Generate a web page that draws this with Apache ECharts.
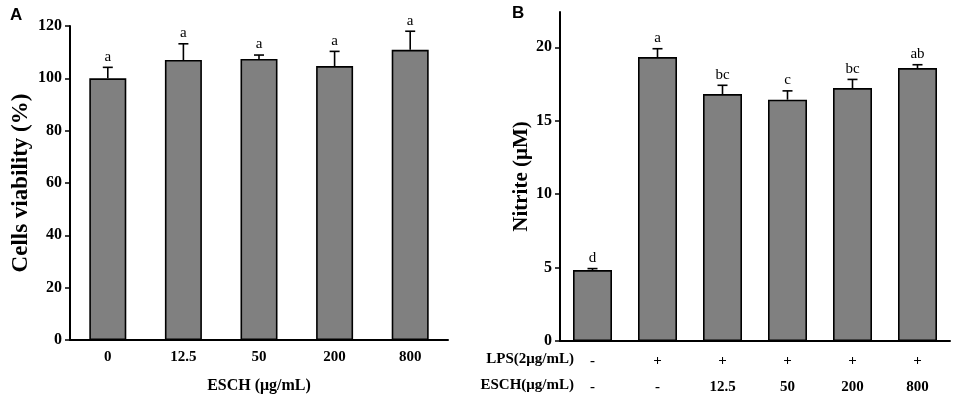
<!DOCTYPE html>
<html>
<head>
<meta charset="utf-8">
<script src="https://cdn.jsdelivr.net/npm/echarts@6/dist/echarts.min.js"></script>
<style>
  html, body { margin: 0; padding: 0; background: #fff; }
  #chart { width: 957px; height: 403px; }
</style>
</head>
<body>
<div id="chart"></div>
<script>
// panel A: cell viability
var doseA = ['0', '12.5', '50', '200', '800'];
var viability = [100, 107, 107.4, 104.7, 110.9];
var viabilitySd = [4.2, 6.2, 1.5, 5.6, 7.1];
var lettersA = ['a', 'a', 'a', 'a', 'a'];

// panel B: nitrite
var lpsRow = ['-', '+', '+', '+', '+', '+'];
var eschRow = ['-', '-', '12.5', '50', '200', '800'];
var nitrite = [4.83, 19.33, 16.81, 16.43, 17.22, 18.58];
var nitriteSd = [0.1, 0.57, 0.6, 0.6, 0.59, 0.23];
var lettersB = ['d', 'a', 'bc', 'c', 'bc', 'ab'];
var ticksB = [0, 5, 10, 15, 20];

var serif = '"Liberation Serif", "Times New Roman", serif';
var catB = [];
for (var i = 0; i < lpsRow.length; i++) {
	catB.push(lpsRow[i] + '\n' + eschRow[i]);
}

function errData(vals, sd, letters) {
	var out = [];
	for (var i = 0; i < vals.length; i++) {
		out.push([i, vals[i], vals[i] + sd[i], letters[i]]);
	}
	return out;
}

function renderErr(params, api) {
	var top = api.coord([api.value(0), api.value(2)]);
	var base = api.coord([api.value(0), api.value(1)]);
	var cap = 5;
	return {
		type: 'group',
		children: [
			{ type: 'line', shape: { x1: base[0], y1: base[1], x2: top[0], y2: top[1] },
			  style: { stroke: '#000', lineWidth: 1.6 } },
			{ type: 'line', shape: { x1: top[0] - cap, y1: top[1], x2: top[0] + cap, y2: top[1] },
			  style: { stroke: '#000', lineWidth: 1.6 } },
			{ type: 'text', x: top[0], y: top[1] - 3,
			  style: { text: api.value(3), fill: '#000', font: '15px ' + serif,
			           textAlign: 'center', textVerticalAlign: 'bottom' } }
		]
	};
}

var myChart = echarts.init(document.getElementById('chart'));

var axisLine = { lineStyle: { color: '#000', width: 2 } };
var xLabel = { color: '#000', fontFamily: serif, fontWeight: 'bold', fontSize: 15 };
var yLabel = { color: '#000', fontFamily: serif, fontWeight: 'bold', fontSize: 16 };

var option = {
	animation: false,
	backgroundColor: '#fff',
	graphic: [
		{ type: 'text', left: 10, top: 7,
		  style: { text: 'A', font: 'bold 17px "Liberation Sans", Arial, sans-serif', fill: '#000' } },
		{ type: 'text', left: 512, top: 5,
		  style: { text: 'B', font: 'bold 17px "Liberation Sans", Arial, sans-serif', fill: '#000' } },
		{ type: 'text', right: 957 - 574, top: 352,
		  style: { text: 'LPS(2μg/mL)', font: 'bold 15px ' + serif, fill: '#000', textAlign: 'right' } },
		{ type: 'text', right: 957 - 574, top: 378,
		  style: { text: 'ESCH(μg/mL)', font: 'bold 15px ' + serif, fill: '#000', textAlign: 'right' } }
	],
	grid: [
		{ left: 70, top: 26, width: 378, height: 314 },
		{ left: 560, top: 12, width: 390, height: 329 }
	],
	xAxis: [
		{
			type: 'category', gridIndex: 0, data: doseA,
			axisLine: axisLine, axisTick: { show: false },
			axisLabel: Object.assign({ margin: 10 }, xLabel),
			name: 'ESCH (μg/mL)', nameLocation: 'middle', nameGap: 38,
			nameTextStyle: { color: '#000', fontFamily: serif, fontWeight: 'bold', fontSize: 16 }
		},
		{
			type: 'category', gridIndex: 1, data: catB,
			axisLine: axisLine,
			axisTick: { alignWithLabel: true, length: 5, lineStyle: { color: '#000', width: 1.5 } },
			axisLabel: Object.assign({ margin: 7, lineHeight: 26 }, xLabel)
		}
	],
	yAxis: [
		{
			type: 'value', gridIndex: 0, min: 0, max: 120, interval: 20,
			splitLine: { show: false },
			axisLine: { show: true, lineStyle: { color: '#000', width: 2 } },
			axisTick: { show: true, length: 5, lineStyle: { color: '#000', width: 1.5 } },
			axisLabel: Object.assign({ margin: 8 }, yLabel),
			name: 'Cells viability (%)', nameLocation: 'middle', nameGap: 37,
			nameTextStyle: { color: '#000', fontFamily: serif, fontWeight: 'bold', fontSize: 23 }
		},
		{
			type: 'value', gridIndex: 1, min: 0, max: 22.4, interval: 5,
			splitLine: { show: false },
			axisLine: { show: true, lineStyle: { color: '#000', width: 2 } },
			axisTick: { show: true, length: 5, customValues: ticksB, lineStyle: { color: '#000', width: 1.5 } },
			axisLabel: Object.assign({ margin: 8, customValues: ticksB }, yLabel),
			name: 'Nitrite (μM)', nameLocation: 'middle', nameGap: 26,
			nameTextStyle: { color: '#000', fontFamily: serif, fontWeight: 'bold', fontSize: 21 }
		}
	],
	series: [
		{
			type: 'bar', xAxisIndex: 0, yAxisIndex: 0, data: viability, barWidth: 37,
			itemStyle: { color: '#808080', borderColor: '#000', borderWidth: 1.6 }
		},
		{
			type: 'custom', xAxisIndex: 0, yAxisIndex: 0, renderItem: renderErr,
			data: errData(viability, viabilitySd, lettersA), z: 3
		},
		{
			type: 'bar', xAxisIndex: 1, yAxisIndex: 1, data: nitrite, barWidth: 39,
			itemStyle: { color: '#808080', borderColor: '#000', borderWidth: 1.6 }
		},
		{
			type: 'custom', xAxisIndex: 1, yAxisIndex: 1, renderItem: renderErr,
			data: errData(nitrite, nitriteSd, lettersB), z: 3
		}
	]
};
myChart.setOption(option);
</script>
</body>
</html>
